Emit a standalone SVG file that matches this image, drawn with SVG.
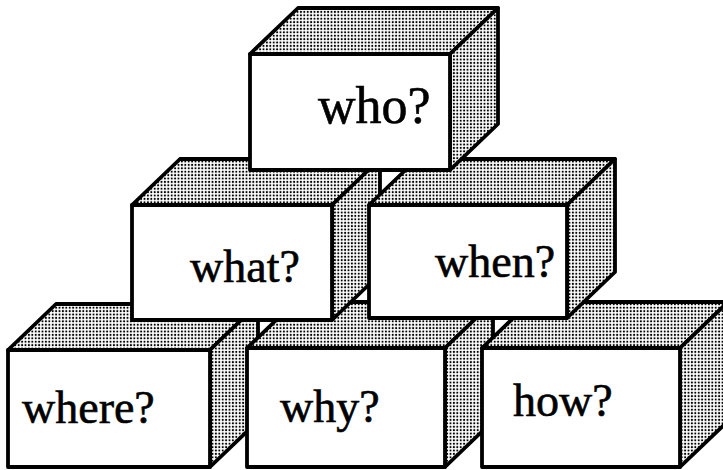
<svg xmlns="http://www.w3.org/2000/svg" width="723" height="470" viewBox="0 0 723 470">
<defs>
<pattern id="dots" width="3.4" height="3.4" patternUnits="userSpaceOnUse">
<rect width="3.4" height="3.4" fill="#ffffff"/>
<circle cx="1.7" cy="1.7" r="1.05" fill="#000000"/>
</pattern>
</defs>
<style>
.shade{fill:url(#dots);stroke:#000;stroke-width:3.8;stroke-linejoin:round}
.front{fill:#fff;stroke:#000;stroke-width:3.8;stroke-linejoin:round}
.lbl{font-family:"Liberation Serif","Times New Roman",serif;fill:#000;stroke:#000;stroke-width:0.6;font-size:46px}
</style>
<rect width="723" height="470" fill="#fff"/>
<g id="where">
<polygon class="shade" points="8,350 56,304 258,304 210,350"/>
<polygon class="shade" points="210,350 258,304 258,421 210,467"/>
<rect class="front" x="8" y="350" width="202" height="117"/>
<text class="lbl" x="22" y="423">where?</text>
</g>
<g id="why">
<polygon class="shade" points="247,348 295,302 493,302 445,348"/>
<polygon class="shade" points="445,348 493,302 493,421 445,467"/>
<rect class="front" x="247" y="348" width="198" height="119"/>
<text class="lbl" x="280" y="422">why?</text>
</g>
<g id="how">
<polygon class="shade" points="482,348 530,302 728,302 680,348"/>
<polygon class="shade" points="680,348 728,302 728,421 680,467"/>
<rect class="front" x="482" y="348" width="198" height="119"/>
<text class="lbl" x="513" y="416">how?</text>
</g>
<g id="what">
<polygon class="shade" points="132,205 180,159 380,159 332,205"/>
<polygon class="shade" points="332,205 380,159 380,274 332,320"/>
<rect class="front" x="132" y="205" width="200" height="115"/>
<text class="lbl" x="190" y="282">what?</text>
</g>
<g id="when">
<polygon class="shade" points="369,205 417,159 615,159 567,205"/>
<polygon class="shade" points="567,205 615,159 615,272 567,318"/>
<rect class="front" x="369" y="205" width="198" height="113"/>
<text class="lbl" x="435" y="277">when?</text>
</g>
<g id="who">
<polygon class="shade" points="250,54 298,8 498,8 450,54"/>
<polygon class="shade" points="450,54 498,8 498,124 450,170"/>
<rect class="front" x="250" y="54" width="200" height="116"/>
<text class="lbl" x="318" y="123" style="font-size:52px">who?</text>
</g>
</svg>
